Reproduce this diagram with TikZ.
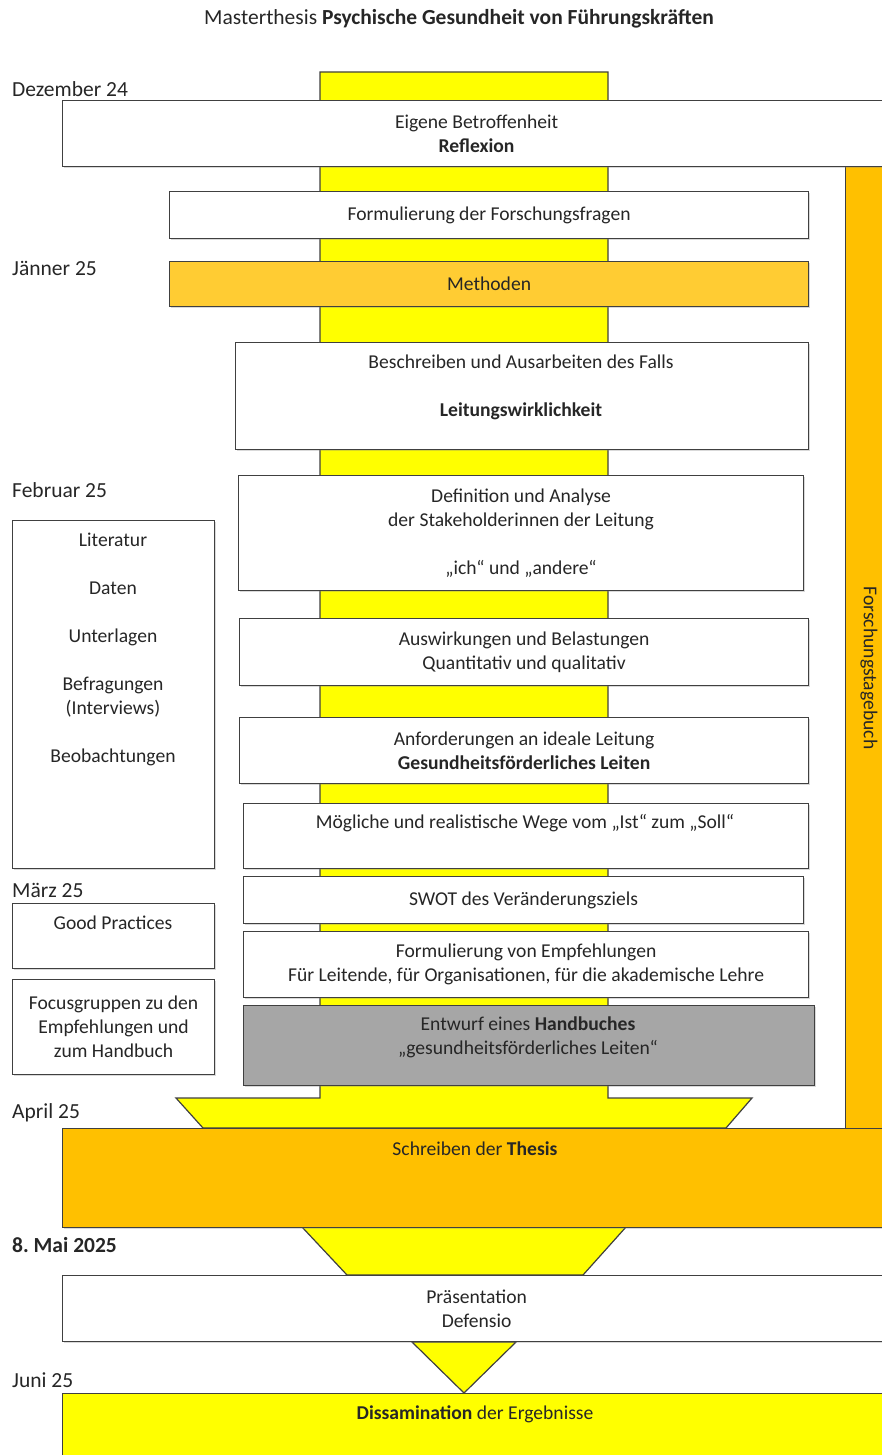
\documentclass[tikz,border=0pt]{standalone}
\usepackage{fontspec}
\setmainfont{Carlito}
\usepackage{tikz}
\usetikzlibrary{shadows, positioning}

\definecolor{gelb}{RGB}{255,255,0}
\definecolor{orange}{RGB}{255,192,0}
\definecolor{methorange}{RGB}{255,204,51}
\definecolor{grau}{RGB}{166,166,166}

\begin{document}
\frenchspacing
\begin{tikzpicture}[x=1pt, y=-1pt,
	font=\fontsize{19.6}{24}\selectfont,
	every node/.style={text=black!85},
	box/.style={draw=black!75, line width=1.2pt, fill=white, inner sep=0pt,
		anchor=north west, align=center,
		drop shadow={shadow xshift=1.5pt, shadow yshift=-1.5pt, opacity=.3}},
	sz/.style 2 args={minimum width=#1pt, minimum height=#2pt},
	datum/.style={anchor=west, inner sep=0pt, font=\fontsize{21.5}{24}\selectfont},
	txt/.style={align=center, inner sep=0pt},
	funnel/.style={draw=black!75, line width=1.2pt, fill=gelb}]
	\useasboundingbox (0,0) rectangle (881,1455);

	\node[txt, font=\fontsize{21.5}{24}\selectfont] (titel) at (459,19) {Masterthesis \textbf{Psychische Gesundheit von Führungskräften}};

	% yellow flow in the middle
	\path[funnel] (320,72) -- (608,72) -- (608,1098) -- (752,1098) -- (726,1128)
		-- (203,1128) -- (176,1098) -- (320,1098) -- cycle;
	\path[funnel] (302,1227) -- (626,1227) -- (583,1275) -- (347,1275) -- cycle;
	\path[funnel] (412,1342) -- (516,1342) -- (464,1393) -- cycle;

	% research diary
	\node[draw=black!75, line width=1.2pt, fill=orange, anchor=north west, sz={60}{970}] (tagebuch) at (845,160) {};
	\node[rotate=-90, inner sep=0pt] (tagebuchT) at (869,668) {Forschungstagebuch};

	% dates
	\node[datum] (dez) at (12,89) {Dezember 24};
	\node[datum] (jan) at (12,268) {Jänner 25};
	\node[datum] (feb) at (12,490) {Februar 25};
	\node[datum] (mar) at (12,890) {März 25};
	\node[datum] (apr) at (12,1113) {April 25};
	\node[datum] (mai) at (12,1245) {\textbf{8. Mai 2025}};
	\node[datum] (jun) at (12,1380) {Juni 25};

	% steps
	\node[box, sz={828}{66}] (eigene) at (62,100) {Eigene Betroffenheit\\\textbf{Reflexion}};
	\node[box, sz={639}{47}] (fragen) at (169,191) {Formulierung der Forschungsfragen};
	\node[box, sz={639}{45}, fill=methorange] (methoden) at (169,261) {Methoden};
	\node[box, sz={573}{107}] (fall) at (235,342) {};
	\node[txt] (fallT) at (521,387) {Beschreiben und Ausarbeiten des Falls\\[24pt]\textbf{Leitungswirklichkeit}};
	\node[box, sz={565}{115}] (stake) at (238,475) {Definition und Analyse\\der Stakeholderinnen der Leitung\\[24pt]„ich“ und „andere“};
	\node[box, sz={569}{67}] (ausw) at (239,618) {Auswirkungen und Belastungen\\Quantitativ und qualitativ};
	\node[box, sz={569}{66}] (anford) at (239,717) {Anforderungen an ideale Leitung\\\textbf{Gesundheitsförderliches Leiten}};
	\node[box, sz={565}{65}] (wege) at (243,803) {};
	\node[txt] (wegeT) at (525,823) {Mögliche und realistische Wege vom „Ist“ zum „Soll“};
	\node[box, sz={560}{47}] (swot) at (243,876) {SWOT des Veränderungsziels};
	\node[box, sz={565}{66}] (empf) at (243,931) {Formulierung von Empfehlungen\\Für Leitende, für Organisationen, für die akademische Lehre};
	\node[box, sz={571}{80}, fill=grau] (handbuch) at (243,1005) {};
	\node[txt] (handbuchT) at (528,1037) {Entwurf eines \textbf{Handbuches}\\„gesundheitsförderliches Leiten“};

	% sources on the left
	\node[box, sz={202}{348}] (quellen) at (12,520) {};
	\node[txt] (quellenT) at (113,649) {Literatur\\[24pt]Daten\\[24pt]Unterlagen\\[24pt]Befragungen\\(Interviews)\\[24pt]Beobachtungen};
	\node[box, sz={202}{65}] (good) at (12,903) {};
	\node[txt] (goodT) at (113,923) {Good Practices};
	\node[box, sz={202}{95}] (fokus) at (12,979) {Focusgruppen zu den\\Empfehlungen und\\zum Handbuch};

	% end phase
	\node[box, sz={828}{99}, fill=orange] (thesis) at (62,1128) {};
	\node[txt] (thesisT) at (475,1149) {Schreiben der \textbf{Thesis}};
	\node[box, sz={828}{66}] (praes) at (62,1275) {Präsentation\\Defensio};
	\node[box, sz={828}{90}, fill=gelb] (dissam) at (62,1393) {};
	\node[txt] (dissamT) at (475,1414) {\textbf{Dissamination} der Ergebnisse};
\end{tikzpicture}
\end{document}
